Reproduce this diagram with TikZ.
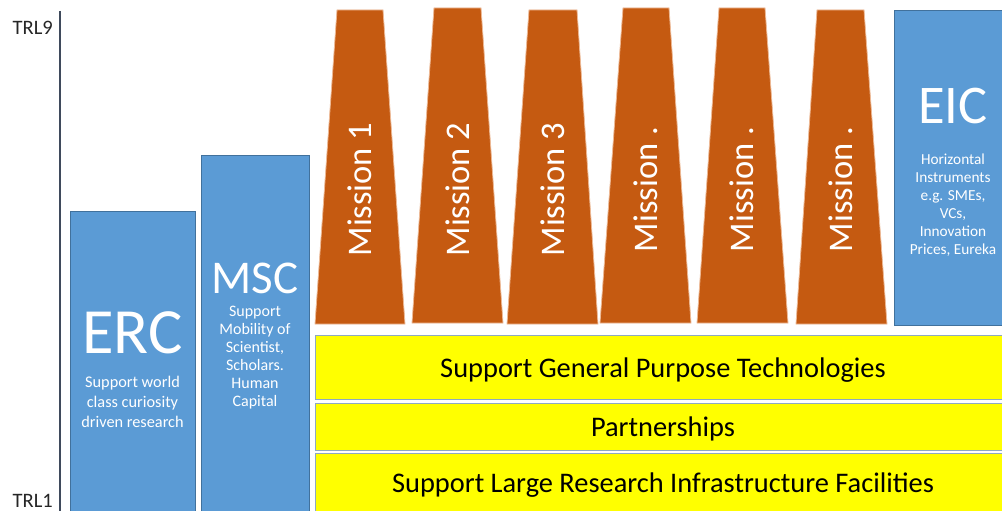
\documentclass[tikz,border=0pt]{standalone}
\usepackage{fontspec}
\setmainfont{Carlito}
\definecolor{bluef}{HTML}{5B9BD5}
\definecolor{blued}{HTML}{41719C}
\definecolor{orf}{HTML}{C55A11}
\definecolor{ored}{HTML}{EDB995}
\definecolor{yel}{HTML}{FFFF00}
\definecolor{yeld}{HTML}{8EA9C1}
\definecolor{axisc}{HTML}{3F4A5C}
\begin{document}
\begin{tikzpicture}[x=1pt,y=-1pt,
  bbox/.style={draw=blued,fill=bluef,line width=0.8pt,anchor=north west,inner sep=0pt},
  ybox/.style={draw=yeld,fill=yel,line width=1pt,anchor=north west,inner sep=0pt,minimum width=700pt},
  mis/.style={fill=orf,draw=ored,line width=0.8pt},
  mtext/.style={text=white,rotate=90,inner sep=0pt,font=\fontsize{34.5}{34.5}\selectfont},
  bigt/.style={text=white,inner sep=0pt,anchor=base},
  subt/.style={text=white,inner sep=0pt,align=center,anchor=north,font=\fontsize{16}{18}\selectfont},
  ytext/.style={text=black,inner sep=0pt,anchor=base,font=\fontsize{28.4}{28.4}\selectfont},
  trl/.style={text=black!85,inner sep=0pt,anchor=base east,font=\fontsize{20.5}{20.5}\selectfont}]
\useasboundingbox (0,0) rectangle (1002,511);
\fill[white] (0,0) rectangle (1002,511);
% axis
\draw[axisc,line width=2pt] (60,11) -- (60,513);
\node[trl] (trl9) at (53,35) {TRL9};
\node[trl] (trl1) at (53,507) {TRL1};
% blue boxes
\node[bbox,minimum width=125pt,minimum height=302pt] (erc) at (70,211) {};
\node[bbox,minimum width=108pt,minimum height=358pt] (msc) at (201,155) {};
\node[bbox,minimum width=116pt,minimum height=315pt] (eic) at (894,10) {};
\node[bigt,font=\fontsize{64.5}{64.5}\selectfont] (ercT) at (132.5,353) {ERC};
\node[subt,font=\fontsize{16.3}{20}\selectfont] (ercS) at (132.5,375.5) {Support world\\class curiosity\\driven research};
\node[bigt,font=\fontsize{47}{47}\selectfont] (mscT) at (255,293) {MSC};
\node[subt] (mscS) at (255,306) {Support\\Mobility of\\Scientist,\\Scholars.\\Human\\Capital};
\node[bigt,font=\fontsize{54.5}{54.5}\selectfont] (eicT) at (953,123) {EIC};
\node[subt,font=\fontsize{15.3}{18}\selectfont] (eicS) at (953,154) {Horizontal\\Instruments\\e.g. SMEs,\\VCs,\\Innovation\\Prices, Eureka};
% missions
\foreach \tl/\tr/\bl/\br/\t/\b/\lab/\n in {
  337/383/315/405/10/324/Mission 1/m1,
  434/481/412/503/8/323/Mission 2/m2,
  529/577/507/598/10/324/Mission 3/m3,
  623/669/600/691/8/323/Mission ./m4,
  719/765/697/788/8/323/Mission ./m5,
  817/864/796/887/10/324/Mission ./m6}{
  \draw[mis] (\tl,\t) -- (\tr,\t) -- (\br,\b) -- (\bl,\b) -- cycle;
  \node[mtext] (\n) at ({(\tl+\tr+\bl+\br)/4},189.5) {\lab};
}
% yellow bands
\node[ybox,minimum height=64pt] (gpt) at (315,335) {};
\node[ybox,minimum height=47pt] (part) at (315,403) {};
\node[ybox,minimum height=58pt] (ri) at (315,453) {};
\node[ytext] (gptT) at (663,377) {Support General Purpose Technologies};
\node[ytext] (partT) at (663,436) {Partnerships};
\node[ytext] (riT) at (663,492) {Support Large Research Infrastructure Facilities};
\end{tikzpicture}
\end{document}
